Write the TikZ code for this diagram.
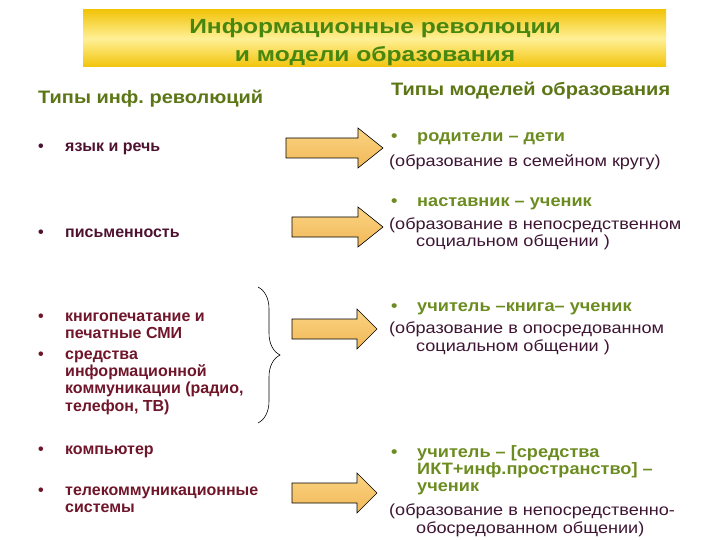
\documentclass[tikz,border=0pt]{standalone}
\usepackage{fontspec}
\setmainfont{Liberation Sans}
\newfontfamily\titlefont[FakeStretch=1.2]{Liberation Sans}
\newfontfamily\headfont[FakeStretch=1.11]{Liberation Sans}
\newfontfamily\modelfont[FakeStretch=1.1]{Liberation Sans}
\newfontfamily\notefont[FakeStretch=1.13]{Liberation Sans}
\usetikzlibrary{decorations.pathreplacing}
\frenchspacing

\definecolor{titlegreen}{RGB}{72,135,15}
\definecolor{headolive}{RGB}{92,118,22}
\definecolor{itemred}{RGB}{112,22,42}
\definecolor{itemdark}{RGB}{78,18,48}
\definecolor{modelgreen}{RGB}{108,140,32}
\definecolor{modelpurple}{RGB}{62,22,52}
\definecolor{bannergold}{RGB}{242,196,10}
\definecolor{bannerlight}{RGB}{255,240,150}
\definecolor{arrowtop}{RGB}{250,212,130}
\definecolor{arrowbot}{RGB}{242,184,88}

\tikzset{
  revitem/.style={anchor=base west, inner sep=0pt, align=left, text=itemred,
    font=\fontsize{16}{17.3}\selectfont\bfseries},
  revdot/.style={anchor=base west, inner sep=0pt, text=itemred,
    font=\fontsize{16}{17.3}\selectfont\bfseries},
  colhead/.style={anchor=base west, inner sep=0pt, text=headolive,
    font=\headfont\fontsize{18}{20}\selectfont\bfseries},
  modelitem/.style={anchor=base west, inner sep=0pt, align=left, text=modelgreen,
    font=\modelfont\fontsize{16.5}{17}\selectfont\bfseries},
  modelnote/.style={anchor=base west, inner sep=0pt, align=left, text=modelpurple,
    font=\notefont\fontsize{16}{17.5}\selectfont},
  blockarrow/.style={draw=black, line width=0.6pt, top color=arrowtop, bottom color=arrowbot}
}

\begin{document}
\begin{tikzpicture}[x=1pt,y=-1pt]
    \useasboundingbox (0,0) rectangle (720,540);
    % banner
    \shade[top color=bannergold, bottom color=bannergold, middle color=bannerlight] (83,10) rectangle (666,67);
    \node[text=titlegreen, align=center, inner sep=0pt, font=\titlefont\fontsize{20.5}{28}\selectfont\bfseries] (title) at (375,42)
        {Информационные революции\\и модели образования};

    % column heads
    \node[colhead] (revhead) at (38,104) {Типы инф. революций};
    \node[colhead] (modhead) at (391,96) {Типы моделей образования};

    % revolutions
    \node[revdot, text=itemdark] (d1) at (38,152) {•};
    \node[revitem, text=itemdark] (speech) at (65,152) {язык и речь};
    \node[revdot, text=itemdark] (d2) at (38,237) {•};
    \node[revitem, text=itemdark] (writing) at (65,237) {письменность};
    \node[revdot] (d3) at (38,321) {•};
    \node[revitem] (print) at (65,338.3) {книгопечатание и\\печатные СМИ};
    \node[revdot] (d4) at (38,359) {•};
    \node[revitem] (media) at (65,411) {средства\\информационной\\коммуникации (радио,\\телефон, ТВ)};
    \node[revdot] (d5) at (38,454) {•};
    \node[revitem] (computer) at (65,454) {компьютер};
    \node[revdot] (d6) at (38,495) {•};
    \node[revitem] (telecom) at (65,512.3) {телекоммуникационные\\системы};

    % brace
    \coordinate (brtop) at (258,287);
    \coordinate (brbot) at (258,423);
    \draw[decorate, decoration={brace, amplitude=22pt}, line width=0.6pt] (brtop) -- (brbot);

    % arrows
    \path[blockarrow] (286,138) -- (358,138) -- (358,128) -- (383,148) -- (358,168) -- (358,158) -- (286,158) -- cycle;
    \path[blockarrow] (292,217) -- (358,217) -- (358,207) -- (383,227) -- (358,247) -- (358,237) -- (292,237) -- cycle;
    \path[blockarrow] (292,319) -- (357,319) -- (357,309) -- (377,329) -- (357,349) -- (357,339) -- (292,339) -- cycle;
    \path[blockarrow] (292,483) -- (357,483) -- (357,473) -- (377,493) -- (357,513) -- (357,503) -- (292,503) -- cycle;

    % models
    \node[modelitem] (m1dot) at (391,142) {•};
    \node[modelitem] (family) at (417,142) {родители – дети};
    \node[modelnote] (familynote) at (389,167) {(образование в семейном кругу)};
    \node[modelitem] (m2dot) at (391,207) {•};
    \node[modelitem] (mentor) at (417,207) {наставник – ученик};
    \node[modelnote] (mentornote) at (389,247) {(образование в непосредственном\\\hspace*{27pt}социальном общении )};
    \node[modelitem] (m3dot) at (391,311) {•};
    \node[modelitem] (book) at (417,311) {учитель –книга– ученик};
    \node[modelnote] (booknote) at (389,351) {(образование в опосредованном\\\hspace*{27pt}социальном общении )};
    \node[modelitem] (m4dot) at (391,457) {•};
    \node[modelitem] (ict) at (417,491) {учитель – [средства\\ИКТ+инф.пространство] –\\ученик};
    \node[modelnote] (ictnote) at (389,533) {(образование в непосредственно-\\\hspace*{27pt}обосредованном общении)};
\end{tikzpicture}
\end{document}
